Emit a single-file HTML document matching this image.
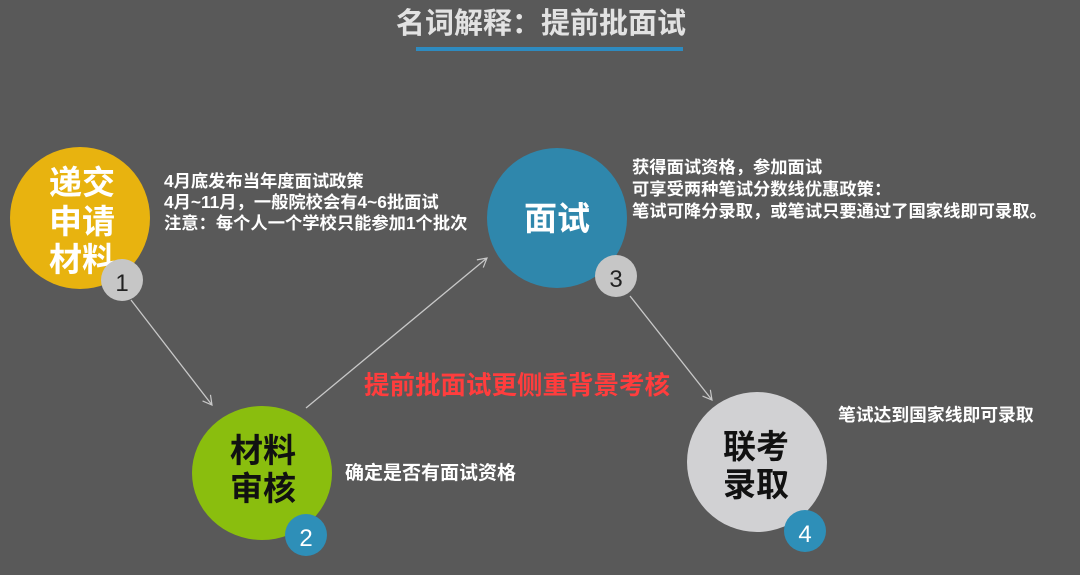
<!DOCTYPE html>
<html><head><meta charset="utf-8"><style>
html,body{margin:0;padding:0;background:#595959;}
svg{display:block;}
text{font-family:"Liberation Sans","Noto Sans CJK SC",sans-serif;font-weight:bold;}
</style></head><body>
<svg width="1080" height="575" viewBox="0 0 1080 575" xmlns="http://www.w3.org/2000/svg">
<rect width="1080" height="575" fill="#595959"/>
<defs><marker id="a" markerWidth="12" markerHeight="12" refX="10" refY="6" orient="auto" markerUnits="userSpaceOnUse"><path d="M1,1 L10,6 L1,11" fill="none" stroke="#c8c8c8" stroke-width="1.2"/></marker></defs>
<text x="541" y="33" text-anchor="middle" font-size="29" fill="#e2e2e2">名词解释：提前批面试</text>
<rect x="416" y="47" width="267" height="4" fill="#2e8bc0"/>
<line x1="131" y1="300" x2="212" y2="405" stroke="#c8c8c8" stroke-width="1.3" marker-end="url(#a)"/>
<line x1="306" y1="408" x2="487" y2="258" stroke="#c8c8c8" stroke-width="1.3" marker-end="url(#a)"/>
<line x1="630" y1="296" x2="712" y2="400" stroke="#c8c8c8" stroke-width="1.3" marker-end="url(#a)"/>
<ellipse cx="80" cy="218" rx="70" ry="71" fill="#e8b30f"/>
<text fill="#fff" font-size="33" text-anchor="middle"><tspan x="82" y="194">递交</tspan><tspan x="82" y="233">申请</tspan><tspan x="82" y="271">材料</tspan></text>
<circle cx="122" cy="280" r="21" fill="#c6c6c6"/>
<text x="122" y="291" text-anchor="middle" font-size="24" fill="#222" style="font-weight:normal">1</text>
<ellipse cx="557" cy="218" rx="70" ry="70" fill="#2f87ac"/>
<text x="557" y="230" text-anchor="middle" font-size="33" fill="#fff">面试</text>
<circle cx="616" cy="276" r="21" fill="#c6c6c6"/>
<text x="616" y="287" text-anchor="middle" font-size="24" fill="#222" style="font-weight:normal">3</text>
<ellipse cx="262" cy="473" rx="70" ry="67" fill="#8abe0e"/>
<text fill="#111" font-size="33" text-anchor="middle"><tspan x="263" y="462">材料</tspan><tspan x="263" y="500">审核</tspan></text>
<circle cx="306" cy="535" r="21" fill="#2e8fb8"/>
<text x="306" y="546" text-anchor="middle" font-size="24" fill="#fff" style="font-weight:normal">2</text>
<ellipse cx="757" cy="462" rx="70" ry="70" fill="#d1d1d3"/>
<text fill="#111" font-size="33" text-anchor="middle"><tspan x="756" y="458">联考</tspan><tspan x="756" y="496">录取</tspan></text>
<circle cx="805" cy="531" r="21" fill="#2e8fb8"/>
<text x="805" y="542" text-anchor="middle" font-size="24" fill="#fff" style="font-weight:normal">4</text>
<text fill="#fff" font-size="17.3"><tspan x="164" y="187">4月底发布当年度面试政策</tspan><tspan x="164" y="208">4月~11月，一般院校会有4~6批面试</tspan><tspan x="164" y="229">注意：每个人一个学校只能参加1个批次</tspan></text>
<text fill="#fff" font-size="17.3"><tspan x="632" y="173">获得面试资格，参加面试</tspan><tspan x="632" y="195">可享受两种笔试分数线优惠政策：</tspan><tspan x="632" y="217">笔试可降分录取，或笔试只要通过了国家线即可录取。</tspan></text>
<text x="517" y="394" text-anchor="middle" font-size="25.5" fill="#ff3d3d">提前批面试更侧重背景考核</text>
<text x="345" y="479" font-size="19" fill="#fff">确定是否有面试资格</text>
<text x="838" y="421" font-size="17.8" fill="#fff">笔试达到国家线即可录取</text>
</svg>
</body></html>
